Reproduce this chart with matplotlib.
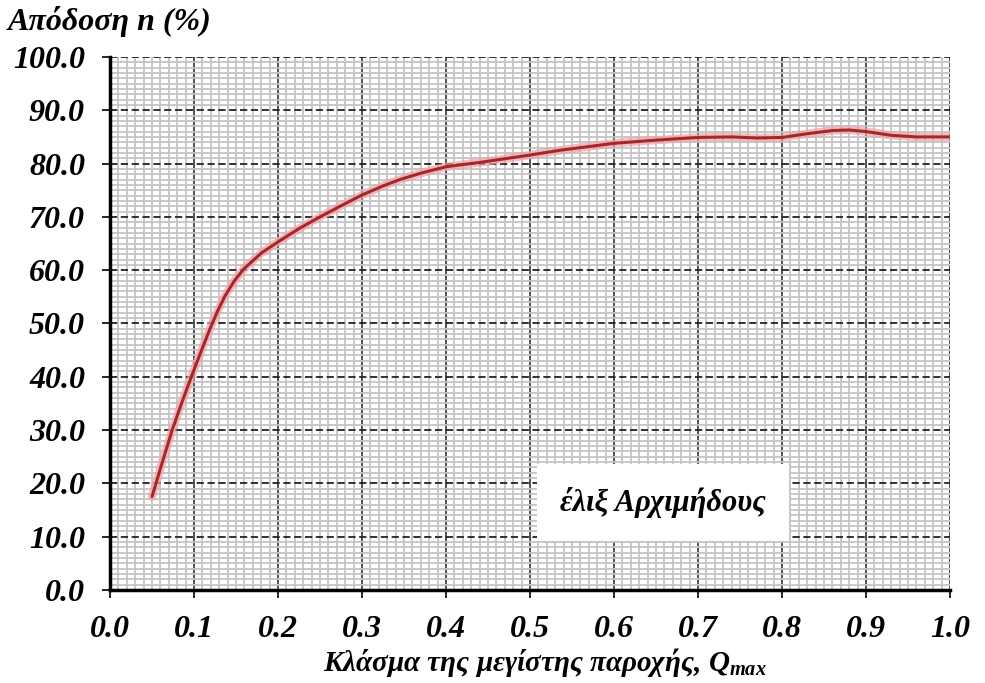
import matplotlib.pyplot as plt
from matplotlib.ticker import MultipleLocator

# efficiency curve of the Archimedes screw
flow_frac = [0.05, 0.06, 0.074, 0.086, 0.098, 0.108, 0.119, 0.128, 0.137, 0.148,
             0.159, 0.18, 0.20, 0.225, 0.25, 0.274, 0.30, 0.325, 0.345, 0.37,
             0.40, 0.444, 0.50, 0.536, 0.60, 0.65, 0.70, 0.74, 0.77, 0.80,
             0.83, 0.86, 0.88, 0.90, 0.93, 0.96, 1.00]
efficiency = [17.5, 22.8, 30.0, 35.4, 40.5, 44.6, 49.0, 52.3, 55.2, 58.0,
              60.2, 63.2, 65.3, 67.8, 70.0, 72.0, 74.1, 75.8, 77.0, 78.2,
              79.4, 80.3, 81.6, 82.5, 83.8, 84.4, 84.9, 85.0, 84.8, 84.9,
              85.6, 86.2, 86.3, 86.0, 85.3, 85.0, 85.0]
x_ticks = [i / 10 for i in range(11)]
y_ticks = [i * 10 for i in range(11)]

plt.rcParams['mathtext.fontset'] = 'custom'
plt.rcParams['mathtext.it'] = 'Liberation Serif:bold:italic'
plt.rcParams['mathtext.rm'] = 'Liberation Serif:bold:italic'
font = dict(family='Liberation Serif', weight='bold', style='italic')

fig = plt.figure(figsize=(9.85, 6.83), dpi=100)
ax = fig.add_axes([0.1117, 0.1362, 0.8528, 0.7804])

ax.set_xlim(0, 1.0)
ax.set_ylim(0, 100)
ax.xaxis.set_major_locator(MultipleLocator(0.1))
ax.xaxis.set_minor_locator(MultipleLocator(0.01))
ax.yaxis.set_major_locator(MultipleLocator(10))
ax.yaxis.set_minor_locator(MultipleLocator(1))

ax.grid(which='minor', color='#c4c4c4', linewidth=1.3)
ax.grid(which='major', axis='x', color='#333333', linewidth=1.2)
ax.grid(which='major', axis='y', color='#222222', linewidth=1.3, linestyle=(0, (4, 2)))
ax.set_axisbelow(True)

ax.plot(flow_frac, efficiency, color='#f2a0a4', linewidth=6, alpha=0.7,
        solid_capstyle='round', solid_joinstyle='round')
ax.plot(flow_frac, efficiency, color='#a3282c', linewidth=2.2,
        solid_capstyle='round', solid_joinstyle='round')

for side in ['top', 'right']:
    ax.spines[side].set_visible(False)
for side in ['left', 'bottom']:
    ax.spines[side].set_linewidth(2.5)
    ax.spines[side].set_color('black')

ax.tick_params(which='minor', length=0)
ax.tick_params(which='major', length=6, width=1.2, direction='out', pad=12)
ax.set_xticks(x_ticks)
ax.set_yticks(y_ticks)
ax.set_xticklabels([f'{v:.1f}' for v in x_ticks], fontsize=23, **font)
ax.set_yticklabels([f'{v:.1f}' for v in y_ticks], fontsize=23, **font)

ax.text(0.658, 16.4, 'έλιξ Αρχιμήδους', fontsize=22, ha='center', va='center',
        bbox=dict(boxstyle='square,pad=0.75', facecolor='white', edgecolor='none'),
        **font)

fig.text(0.008, 0.968, 'Απόδοση n (%)', fontsize=23, ha='left', va='center', **font)
fig.text(0.553, 0.03, 'Κλάσμα της μεγίστης παροχής, $Q_{max}$', fontsize=21,
         ha='center', va='center', **font)

plt.savefig('out.png', dpi=100)
